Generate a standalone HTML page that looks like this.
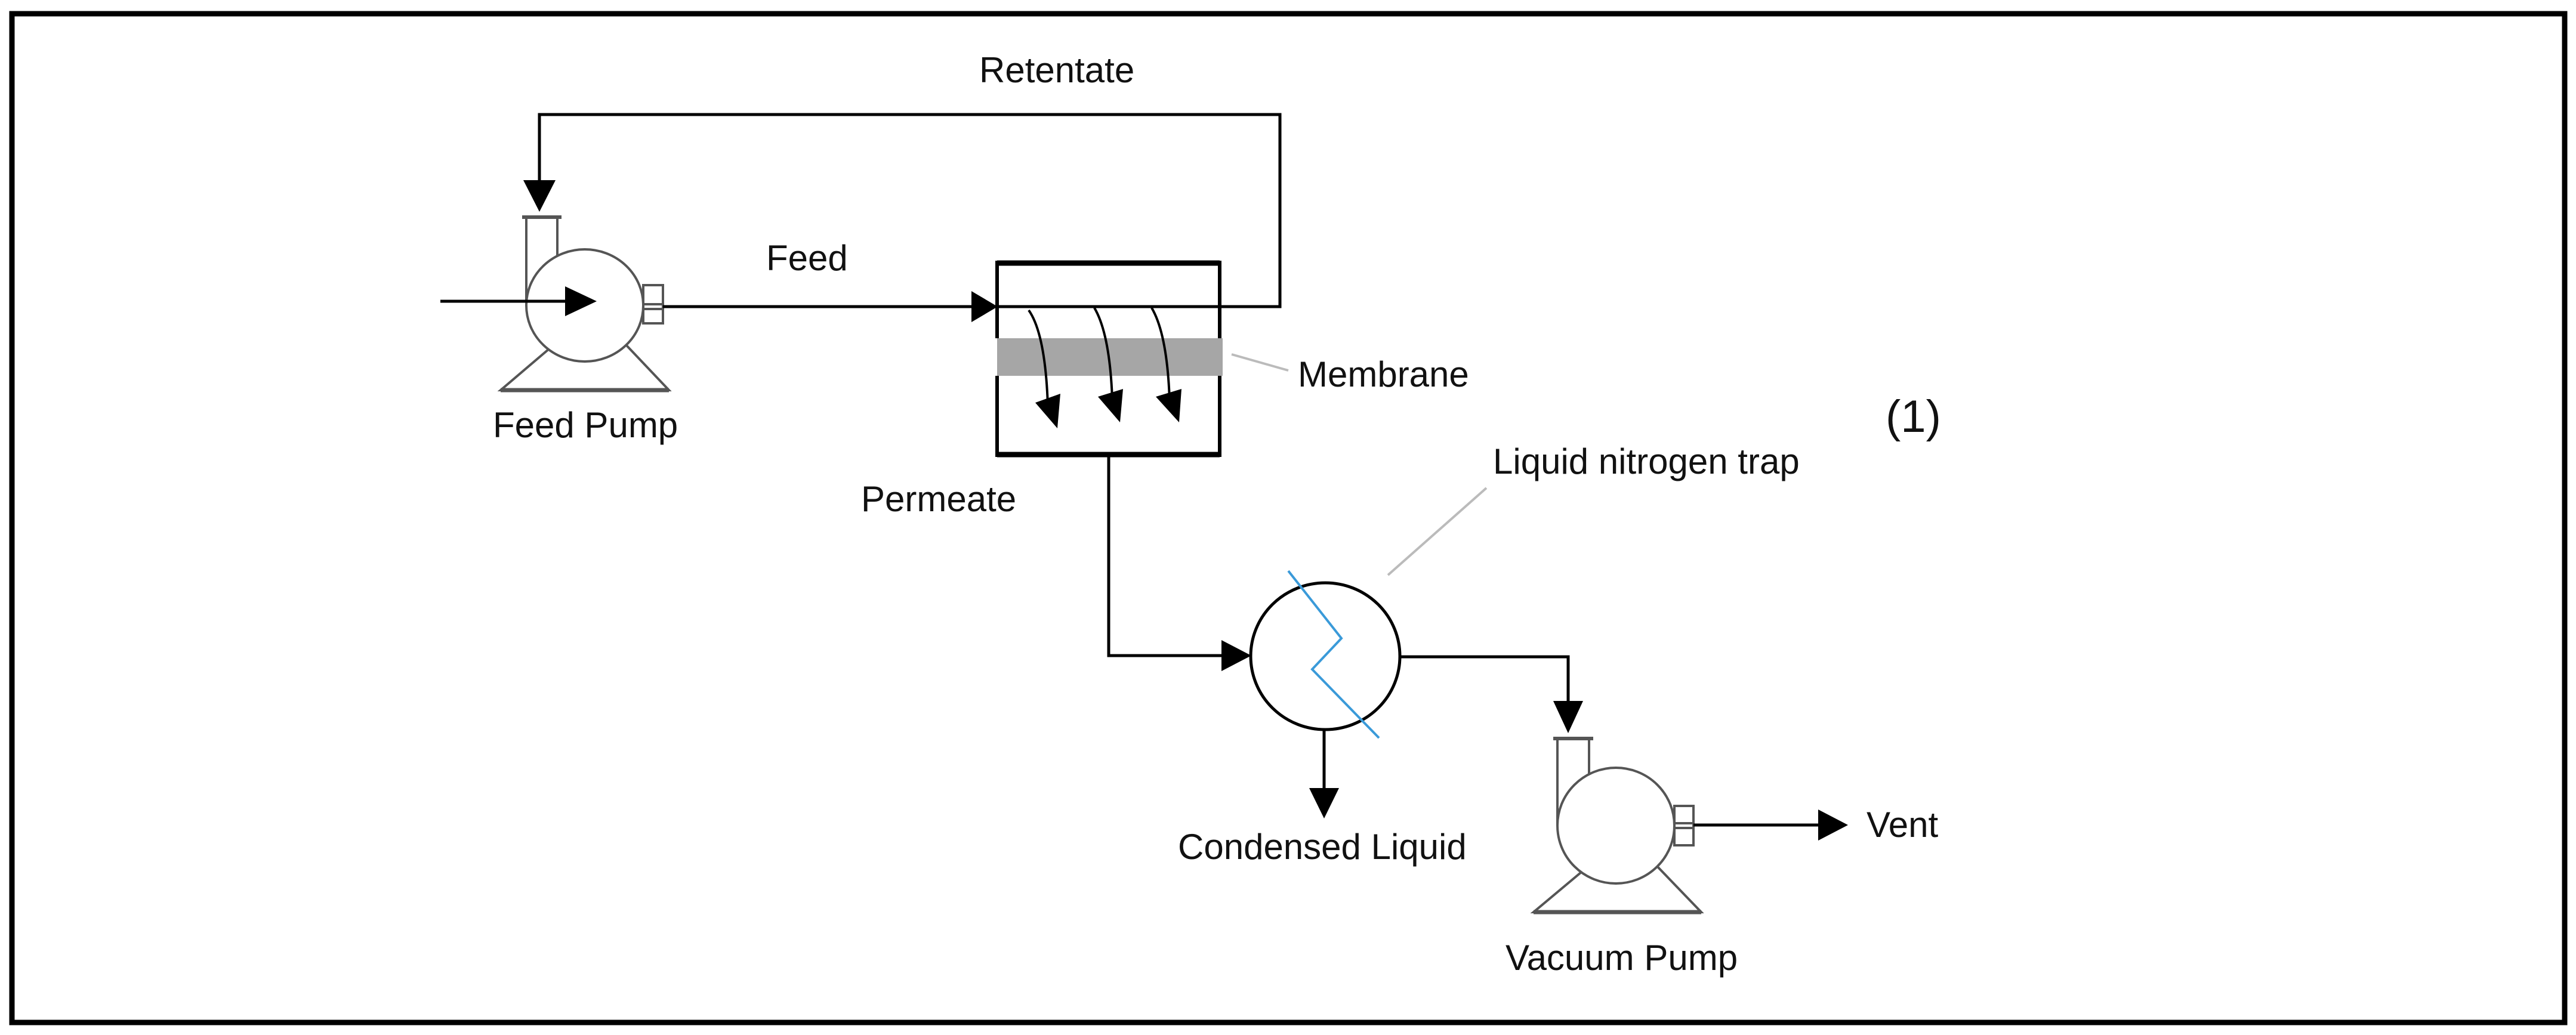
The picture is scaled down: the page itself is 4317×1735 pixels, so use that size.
<!DOCTYPE html>
<html><head><meta charset="utf-8"><style>
html,body{margin:0;padding:0;background:#fff;}
svg{display:block;}
text{font-family:"Liberation Sans",sans-serif;fill:#111;}
</style></head><body>
<svg width="4317" height="1735" viewBox="0 0 4317 1735" xmlns="http://www.w3.org/2000/svg">
<rect x="0" y="0" width="4317" height="1735" fill="#fff"/>
<rect x="20" y="23" width="4278" height="1691" fill="none" stroke="#000" stroke-width="9"/>

<!-- Retentate loop -->
<polyline points="2044,514 2145,514 2145,192 904,192 904,302" fill="none" stroke="#000" stroke-width="5"/>
<polygon points="877,302 931,302 904,355" fill="#000"/>

<!-- Feed pump -->
<g stroke="#555" stroke-width="4" fill="#fff">
  <line x1="882" y1="364" x2="882" y2="505"/>
  <line x1="934" y1="364" x2="934" y2="440"/>
  <line x1="875" y1="364" x2="941" y2="364" stroke-width="6"/>
  <polygon points="920,585 839,654 1121,654 1049,578"/>
  <line x1="839" y1="654" x2="1121" y2="654" stroke-width="7"/>
  <ellipse cx="980" cy="512" rx="98" ry="94"/>
  <rect x="1078" y="478" width="33" height="64" fill="#fff"/>
  <line x1="1078" y1="510" x2="1111" y2="510"/>
  <line x1="1078" y1="518" x2="1111" y2="518"/>
</g>
<line x1="738" y1="505" x2="950" y2="505" stroke="#000" stroke-width="5"/>
<polygon points="947,480 1000,505 947,530" fill="#000"/>

<!-- Feed line -->
<line x1="1111" y1="514" x2="1630" y2="514" stroke="#000" stroke-width="5"/>
<polygon points="1628,488 1672,514 1628,540" fill="#000"/>

<!-- Membrane module -->
<rect x="1671" y="567" width="378" height="63" fill="#a6a6a6"/>
<line x1="1671" y1="441" x2="2044" y2="441" stroke="#000" stroke-width="9"/>
<line x1="1671" y1="762" x2="2044" y2="762" stroke="#000" stroke-width="9"/>
<line x1="1671" y1="437" x2="1671" y2="567" stroke="#000" stroke-width="6"/>
<line x1="1671" y1="630" x2="1671" y2="766" stroke="#000" stroke-width="6"/>
<line x1="2044" y1="437" x2="2044" y2="567" stroke="#000" stroke-width="6"/>
<line x1="2044" y1="630" x2="2044" y2="766" stroke="#000" stroke-width="6"/>
<line x1="1671" y1="514" x2="2044" y2="514" stroke="#000" stroke-width="5"/>
<g fill="none" stroke="#000" stroke-width="4">
  <path d="M1724,520 Q1752,560 1756,680"/>
  <path d="M1834,516 Q1860,560 1864,670"/>
  <path d="M1930,516 Q1956,560 1960,670"/>
</g>
<polygon points="1735,675 1777,660 1772,718" fill="#000"/>
<polygon points="1840,665 1882,652 1877,708" fill="#000"/>
<polygon points="1937,665 1980,652 1976,708" fill="#000"/>
<line x1="2064" y1="594" x2="2159" y2="621" stroke="#bbb" stroke-width="4"/>

<!-- Permeate line -->
<polyline points="1858,764 1858,1099 2050,1099" fill="none" stroke="#000" stroke-width="5"/>
<polygon points="2047,1073 2097,1099 2047,1125" fill="#000"/>

<!-- Trap -->
<ellipse cx="2221" cy="1100" rx="125" ry="123" fill="#fff" stroke="#000" stroke-width="5"/>
<polyline points="2159,957 2248,1070 2199,1122 2311,1237" fill="none" stroke="#3a9ad9" stroke-width="4"/>
<line x1="2326" y1="964" x2="2491" y2="818" stroke="#bbb" stroke-width="4"/>
<polyline points="2346,1101 2628,1101 2628,1178" fill="none" stroke="#000" stroke-width="5"/>
<polygon points="2603,1175 2653,1175 2628,1229" fill="#000"/>
<line x1="2219" y1="1223" x2="2219" y2="1325" stroke="#000" stroke-width="5"/>
<polygon points="2194,1321 2244,1321 2219,1372" fill="#000"/>

<!-- Vacuum pump -->
<g stroke="#555" stroke-width="4" fill="#fff">
  <line x1="2610" y1="1238" x2="2610" y2="1384"/>
  <line x1="2663" y1="1238" x2="2663" y2="1300"/>
  <line x1="2603" y1="1238" x2="2670" y2="1238" stroke-width="6"/>
  <polygon points="2650,1462 2570,1529 2851,1529 2775,1450"/>
  <line x1="2570" y1="1529" x2="2851" y2="1529" stroke-width="7"/>
  <ellipse cx="2708" cy="1384" rx="98" ry="97"/>
  <rect x="2806" y="1351" width="32" height="66" fill="#fff"/>
  <line x1="2806" y1="1380" x2="2838" y2="1380"/>
  <line x1="2806" y1="1388" x2="2838" y2="1388"/>
</g>
<line x1="2838" y1="1383" x2="3050" y2="1383" stroke="#000" stroke-width="5"/>
<polygon points="3047,1357 3097,1383 3047,1409" fill="#000"/>

<!-- Labels -->
<text x="1641" y="138" font-size="60">Retentate</text>
<text x="1284" y="453" font-size="60">Feed</text>
<text x="826" y="733" font-size="60">Feed Pump</text>
<text x="2175" y="648" font-size="60">Membrane</text>
<text x="3160" y="724" font-size="76">(1)</text>
<text x="2502" y="794" font-size="60">Liquid nitrogen trap</text>
<text x="1443" y="857" font-size="60">Permeate</text>
<text x="1974" y="1440" font-size="60">Condensed Liquid</text>
<text x="3128" y="1403" font-size="60">Vent</text>
<text x="2523" y="1626" font-size="60">Vacuum Pump</text>
</svg>
</body></html>
